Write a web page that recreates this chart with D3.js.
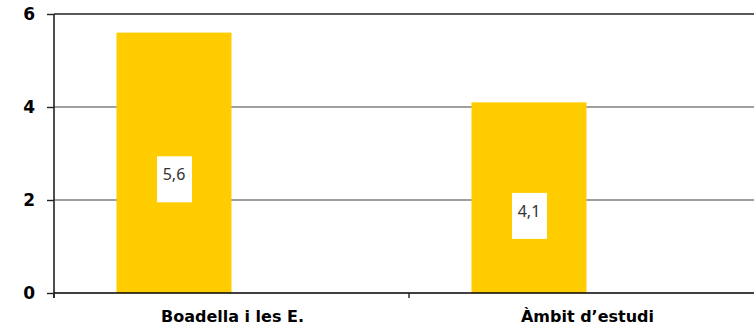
<!DOCTYPE html>
<html>
<head>
<meta charset="utf-8">
<script src="https://cdn.jsdelivr.net/npm/d3@7"></script>
<style>
  body { margin: 0; background: #fff; }
  svg { display: block; }
</style>
</head>
<body>
<svg id="chart"></svg>
<script>
// data
const categories = ["Boadella i les E.", "Àmbit d’estudi"];
const series = ["valor", "buit"];           // second series is empty in the original
const values = [5.6, 4.1];
const valueLabels = ["5,6", "4,1"];
const yTicks = [0, 2, 4, 6];

const width = 754,
    height = 327;
const margin = {top: 14, right: -10, bottom: 34, left: 54};

const svg = d3.select("#chart")
    .attr("width", width)
    .attr("height", height);

const x0 = d3.scaleBand()
    .domain(categories)
    .range([margin.left, width - margin.right]);

// bars sit in the left half of each cluster
const x1 = d3.scaleBand()
    .domain(series)
    .range([x0.bandwidth() * 0.176, x0.bandwidth() * 0.824]);

const y = d3.scaleLinear()
    .domain([0, 6])
    .range([height - margin.bottom, margin.top]);

// gridlines
svg.append("g")
    .selectAll("line")
    .data(yTicks.filter(d => d > 0))
    .join("line")
    .attr("x1", margin.left)
    .attr("x2", width)
    .attr("y1", d => y(d))
    .attr("y2", d => y(d))
    .attr("stroke", d => d === 6 ? "#222" : "#808080")
    .attr("stroke-width", 1.6);

// bars
svg.append("g")
    .selectAll("rect")
    .data(values)
    .join("rect")
    .attr("x", (d, i) => x0(categories[i]) + x1(series[0]))
    .attr("width", x1.bandwidth())
    .attr("y", d => y(d))
    .attr("height", d => y(0) - y(d))
    .attr("fill", "#FFCC00");

// value labels in white boxes
const lab = svg.append("g")
    .selectAll("g")
    .data(values)
    .join("g")
    .attr("transform", (d, i) => {
        const cx = x0(categories[i]) + x1(series[0]) + x1.bandwidth() / 2;
        const top = y(0) - (y(0) - y(d)) * 0.525;
        return `translate(${cx},${top})`;
    });

lab.append("rect")
    .attr("x", -17)
    .attr("width", 35)
    .attr("height", 46)
    .attr("fill", "#fff");

lab.append("text")
    .attr("y", 24)
    .attr("text-anchor", "middle")
    .style("font-family", "'Noto Sans', sans-serif")
    .style("font-size", "16px")
    .style("fill", "#333")
    .text((d, i) => valueLabels[i]);

// y axis
const yAxis = svg.append("g")
    .attr("transform", `translate(${margin.left},0)`)
    .call(d3.axisLeft(y).tickValues(yTicks).tickSize(7).tickPadding(12).tickFormat(d3.format("d")));
yAxis.select(".domain").attr("d", `M0,${y(6)}V${y(0) + 5}`).attr("stroke", "#222").attr("stroke-width", 1.6);
yAxis.selectAll(".tick line").attr("stroke", "#222").attr("stroke-width", 1.4);
yAxis.selectAll("text")
    .style("font-family", "'DejaVu Sans', sans-serif")
    .style("font-weight", "bold")
    .style("font-size", "17px")
    .attr("fill", "#000");

// x axis
const xg = svg.append("g")
    .attr("transform", `translate(0,${y(0)})`);
xg.append("line")
    .attr("x1", margin.left)
    .attr("x2", width)
    .attr("stroke", "#000")
    .attr("stroke-width", 1.6);
xg.selectAll(".sep")
    .data(categories)
    .join("line")
    .attr("class", "sep")
    .attr("x1", d => x0(d))
    .attr("x2", d => x0(d))
    .attr("y2", 5)
    .attr("stroke", "#222")
    .attr("stroke-width", 1.4);
xg.selectAll("text")
    .data(categories)
    .join("text")
    .attr("x", d => x0(d) + x0.bandwidth() / 2 + 1)
    .attr("y", 29)
    .attr("text-anchor", "middle")
    .style("font-family", "'DejaVu Sans', sans-serif")
    .style("font-weight", "bold")
    .style("font-size", "16px")
    .attr("fill", "#000")
    .text(d => d);
</script>
</body>
</html>
